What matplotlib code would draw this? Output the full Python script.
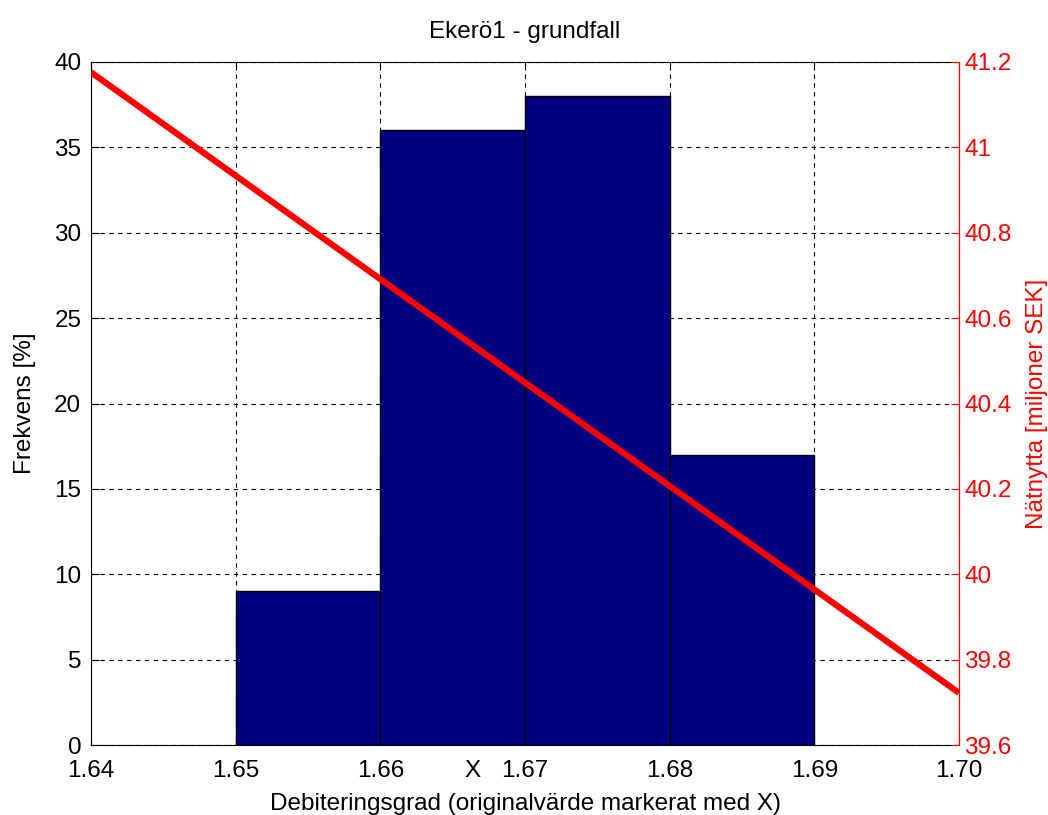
import matplotlib
matplotlib.use("Agg")
import matplotlib.pyplot as plt

bin_edges = [1.65, 1.66, 1.67, 1.68, 1.69]
freq = [9, 36, 38, 17]
line_x = [1.64, 1.70]
line_y = [41.176, 39.722]
x_ticks = [1.64, 1.65, 1.66, 1.67, 1.68, 1.69, 1.70]
x_labels = ["1.64", "1.65", "1.66", "1.67", "1.68", "1.69", "1.70"]
orig_x = 1.6664
y_ticks = [0, 5, 10, 15, 20, 25, 30, 35, 40]
y2_ticks = [39.6, 39.8, 40.0, 40.2, 40.4, 40.6, 40.8, 41.0, 41.2]
y2_labels = ["39.6", "39.8", "40", "40.2", "40.4", "40.6", "40.8", "41", "41.2"]

plt.rcParams['font.family'] = ['Liberation Sans', 'DejaVu Sans']
fs = 17.5

fig = plt.figure(figsize=(10.48, 8.15), dpi=100)
ax = fig.add_axes([91/1048, 70/815, 868/1048, 683/815])
widths = [bin_edges[i+1]-bin_edges[i] for i in range(len(freq))]
ax.bar(bin_edges[:-1], freq, width=widths, align='edge', color='#000080',
       edgecolor='black', linewidth=1, zorder=2)
ax.set_xlim(1.64, 1.70)
ax.set_ylim(0, 40)
ax.set_xticks(x_ticks)
ax.set_xticklabels(x_labels)
ax.set_xticks([orig_x], minor=True)
ax.set_xticklabels(["X"], minor=True)
ax.set_yticks(y_ticks)
ax.tick_params(axis='both', which='both', direction='in', labelsize=fs,
               top=True, length=6)
ax.tick_params(axis='x', which='major', pad=11)
ax.tick_params(axis='x', which='minor', pad=11, top=False)
ax.tick_params(axis='y', pad=7)
ax.grid(True, which='major', linestyle=(0, (4, 4)), color='black', linewidth=0.8, zorder=1)
ax.set_axisbelow(True)
ax.set_xlabel("Debiteringsgrad (originalvärde markerat med X)", fontsize=fs, labelpad=8)
ax.set_ylabel("Frekvens [%]", fontsize=fs, labelpad=13)
ax.set_title("Ekerö1 - grundfall", fontsize=fs, pad=17)

ax2 = ax.twinx()
ax2.plot(line_x, line_y, color='red', linewidth=4.5, solid_capstyle='butt', zorder=3)
ax2.set_ylim(39.6, 41.2)
ax2.set_yticks(y2_ticks)
ax2.set_yticklabels(y2_labels)
ax2.tick_params(axis='y', direction='in', colors='red', labelsize=fs, length=6, pad=4)
ax2.spines['right'].set_color('red')
ax2.set_ylabel("Nätnytta [miljoner SEK]", color='red', fontsize=fs, labelpad=10)
for s in ['left', 'top', 'bottom']:
    ax2.spines[s].set_visible(False)

fig.savefig("out.png", dpi=100, facecolor='white')
